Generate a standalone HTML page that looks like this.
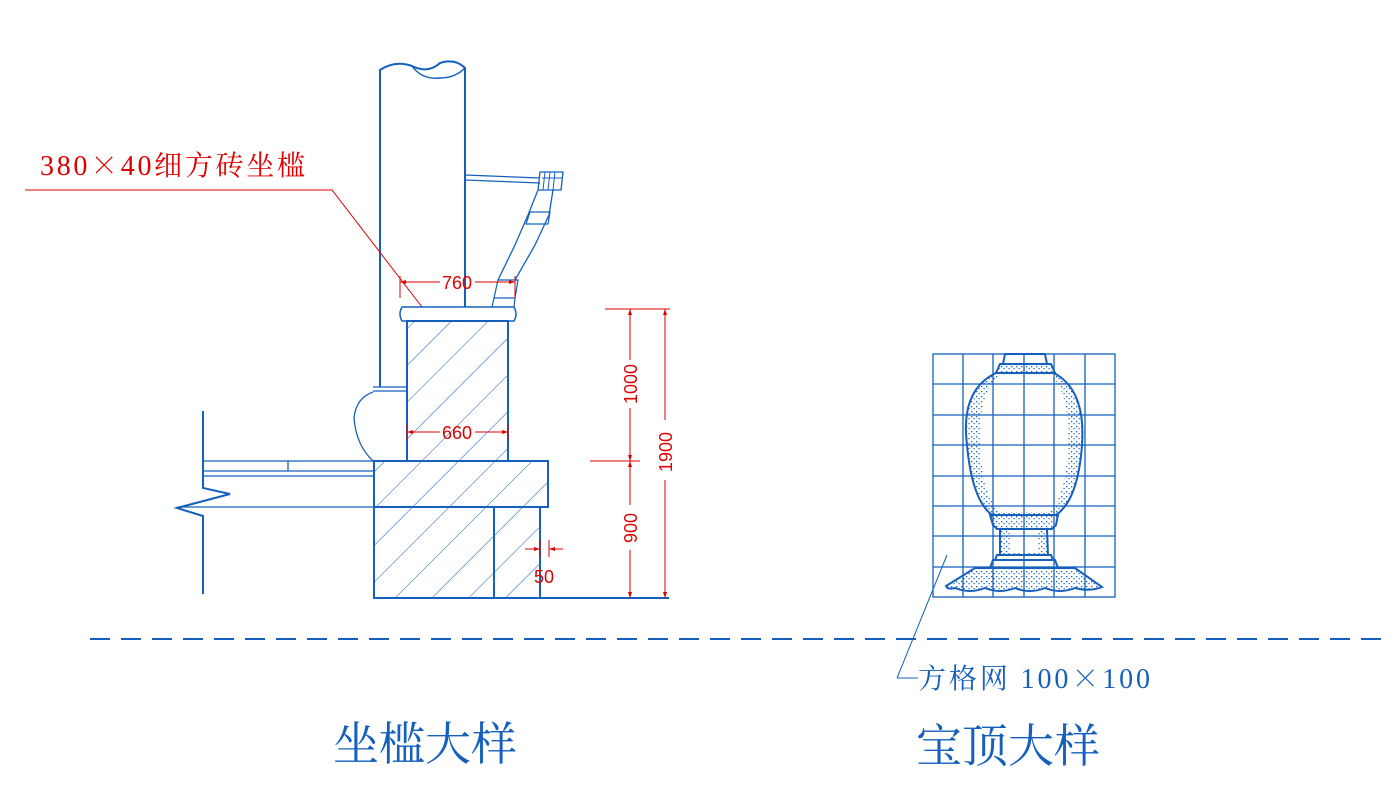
<!DOCTYPE html>
<html><head><meta charset="utf-8"><style>
html,body{margin:0;padding:0;background:#fff;}
svg{display:block}
</style></head><body>
<svg width="1394" height="799" viewBox="0 0 1394 799" xmlns="http://www.w3.org/2000/svg">
<defs>
<pattern id="h" patternUnits="userSpaceOnUse" width="26" height="26" patternTransform="rotate(45)">
<line x1="0" y1="0" x2="0" y2="26" stroke="#1560bd" stroke-width="1"/>
</pattern>
<pattern id="d" patternUnits="userSpaceOnUse" width="5" height="5">
<rect x="1" y="1" width="1.3" height="1.3" fill="#1560bd"/><rect x="3.5" y="3" width="1.2" height="1.2" fill="#1560bd"/>
</pattern>
</defs>
<g fill="none" stroke="#1560bd" stroke-width="2">
<!-- column -->
<path d="M380,387 L380,70 Q395,60 412,66 Q428,74 440,63 Q455,58 465,68 L465,307"/>
<path d="M412,66 Q422,80 440,78 Q455,78 465,68" stroke-width="1.5"/>
<path d="M373,387 L407,387 M373,391 L407,391" stroke-width="1.3"/>
<path d="M373,392 Q356,398 354,418 Q356,445 373,461" stroke-width="1.3"/>
<!-- eave -->
<path d="M465,175 L540,178 M465,180 L540,183" stroke-width="1.3"/>
<path d="M540,172 L563,172 L561,190 L538,190 Z" stroke-width="1.3"/>
<path d="M542,178 L562,178 M545,172 L543,190 M550,172 L548,190 M555,172 L553,190" stroke-width="1"/>
<path d="M538,190 L528,215 L515,245 L498,280 M553,190 L549,215 L535,245 L515,280" stroke-width="1.3"/>
<path d="M530,212 L550,212 L548,224 L526,224 Z M498,280 L518,280 L515,298 L494,298 Z" stroke-width="1.2"/>
<path d="M494,298 L492,307 M515,298 L514,307" stroke-width="1.2"/>
<!-- cap -->
<path d="M402,307 L514,307 Q518,314 514,321 L402,321 Q398,314 402,307 Z" stroke-width="1.5"/>
<!-- pedestal -->
<rect x="407" y="321" width="101" height="140" fill="url(#h)"/>
<!-- slab -->
<rect x="374" y="461" width="174" height="46" fill="url(#h)"/>
<!-- foundation -->
<rect x="374" y="507" width="166" height="91" fill="url(#h)"/>
<line x1="494" y1="507" x2="494" y2="598"/>
<line x1="540" y1="598" x2="669" y2="598"/>
<!-- floor -->
<path d="M203,411 L203,488 L230,494 L177,508 L203,516 L203,594"/>
<path d="M203,461 L374,461 M203,471 L374,471 M203,476 L374,476 M177,507 L374,507 M288,461 L288,471" stroke-width="1.3"/>
<!-- dashed -->
<line x1="90" y1="639" x2="1385" y2="639" stroke-dasharray="20,11"/>
<!-- finial -->
<g stroke-width="2">
<path d="M1005,354 L1045,354 L1047,364 L1003,364 Z" fill="#fff"/>
<path d="M1000,364 L1051,364 L1055,373 L996,373 Z" fill="url(#d)"/>
<path d="M996,373 Q960,390 967,445 Q972,500 992,515 L1056,515 Q1078,500 1082,445 Q1086,390 1054,373 Z" fill="url(#d)"/>
<path d="M998,376 Q978,395 980,445 Q982,495 1000,512 L1050,512 Q1066,495 1068,445 Q1070,395 1052,376 Z" fill="#fff" stroke="none"/>
<path d="M990,515 L1058,515 L1056,525 L1052,529 L997,529 L993,525 Z" fill="url(#d)"/>
<path d="M1000,529 L1047,529 L1048,555 L1000,555 Z" fill="url(#d)"/>
<path d="M1010,531 L1038,531 L1038,553 L1010,553 Z" fill="#fff" stroke="none"/>
<path d="M997,555 L1051,555 L1053,560 L995,560 Z M993,560 L1055,560 L1058,568 L990,568 Z" fill="#fff"/>
<path d="M975,568 L1075,568 L1102,587 Q1090,592 1075,588 Q1060,594 1045,588 Q1030,594 1015,588 Q1000,594 985,588 Q970,594 955,588 Q948,590 946,586 Z" fill="url(#d)"/>
</g>
<!-- grid -->
<g stroke-width="1.3">
<rect x="933" y="354" width="182" height="243"/>
<path d="M963,354V597M993,354V597M1024,354V597M1054,354V597M1085,354V597M933,384H1115M933,415H1115M933,445H1115M933,476H1115M933,506H1115M933,536H1115M933,567H1115"/>
</g>
<path d="M897,678 L918,678 M897,678 L947,555" stroke-width="1"/>
</g>
<!-- red dims -->
<g stroke="#e00000" stroke-width="1" fill="none">
<path d="M25,190 L332,190 L422,307"/>
<path d="M400,282 L440,282 M475,282 L515,282 M400,276 L400,298 M515,276 L515,298"/>
<path d="M407,432 L440,432 M475,432 L508,432 M407,424 L407,440 M508,424 L508,440"/>
<path d="M605,309 L670,309 M590,461 L640,461 M630,309 L630,360 M630,408 L630,505 M630,550 L630,598 M665,309 L665,420 M665,480 L665,598"/>
<path d="M525,549 L540,549 M549,549 L563,549 M540,540 L540,557 M549,540 L549,557"/>
</g>
<g fill="#e00000">
<path d="M400,282 l6,-2 v4z M515,282 l-6,-2 v4z M407,432 l6,-2 v4z M508,432 l-6,-2 v4z M630,309 l-2,6 h4z M630,461 l-2,-6 h4z M630,461 l-2,6 h4z M630,598 l-2,-6 h4z M665,309 l-2,6 h4z M665,598 l-2,-6 h4z M540,549 l-6,-2 v4z M549,549 l6,-2 v4z"/>
</g>
<g font-family="Liberation Sans Narrow, Liberation Sans, sans-serif" font-size="18" fill="#e00000" text-anchor="middle">
<text x="457" y="289">760</text>
<text x="457" y="439">660</text>
<text x="544" y="583">50</text>
<text transform="translate(637,384) rotate(-90)">1000</text>
<text transform="translate(637,528) rotate(-90)">900</text>
<text transform="translate(672,452) rotate(-90)">1900</text>
</g>
<text x="40" y="175" font-family="Liberation Serif, 'Noto Serif CJK SC', serif" font-size="28" fill="#e00000" textLength="265" lengthAdjust="spacing">380<tspan font-family="'Noto Serif CJK SC', serif">×</tspan>40细方砖坐槛</text>
<text x="918" y="688" font-family="Liberation Serif, 'Noto Serif CJK SC', serif" font-size="28" fill="#1560bd" textLength="232" lengthAdjust="spacing">方格网 100<tspan font-family="'Noto Serif CJK SC', serif">×</tspan>100</text>
<text x="425" y="760" text-anchor="middle" font-family="Liberation Serif, 'Noto Serif CJK SC', serif" font-size="46" fill="#1560bd">坐槛大样</text>
<text x="1008" y="762" text-anchor="middle" font-family="Liberation Serif, 'Noto Serif CJK SC', serif" font-size="46" fill="#1560bd">宝顶大样</text>
</svg>
</body></html>
